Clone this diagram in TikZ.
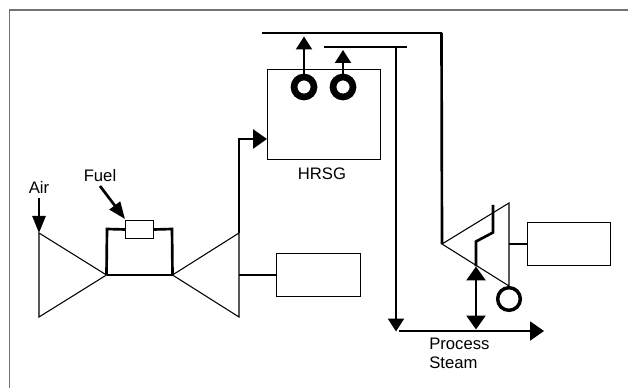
\documentclass[tikz,border=0pt]{standalone}
\usepackage{fontspec}
\setmainfont{Liberation Sans}
\usetikzlibrary{arrows.meta, positioning}

\begin{document}
\begin{tikzpicture}[
  x=0.75pt, y=-0.75pt,
  bigtip/.tip={Triangle[length=10.5pt, width=14.25pt]},
  ringtip/.tip={Triangle[length=9.75pt, width=12pt]},
  feedtip/.tip={Triangle[length=12.75pt, width=9.75pt]},
  box/.style={draw, line width=0.75pt, minimum width=62.5pt, minimum height=32.5pt, inner sep=0pt},
  heat/.style={draw, circle, line width=5pt, minimum size=15pt, inner sep=0pt},
  machine/.style={line width=0.8pt},
  pipe/.style={line width=2pt},
  header/.style={line width=1.6pt},
  lbl/.style={font=\fontsize{12.5}{14.25}\selectfont, inner sep=0pt, align=left}
]
  \useasboundingbox (0,0) rectangle (628,388);
  \draw[line width=1.1pt, draw=black!55] (9.5,389) -- (9.5,10) -- (629,10);

  % machines
  \coordinate (compA) at (39,233);
  \coordinate (compB) at (39,317);
  \coordinate (compC) at (106.5,275);
  \coordinate (turbA) at (239,233);
  \coordinate (turbB) at (239,317);
  \coordinate (turbC) at (172.5,275);
  \coordinate (steamA) at (509,203);
  \coordinate (steamB) at (509,286);
  \coordinate (steamC) at (442,244);
  \draw[machine] (compA) -- (compC) -- (compB) -- cycle;
  \draw[machine] (turbA) -- (turbC) -- (turbB) -- cycle;
  \draw[machine] (steamA) -- (steamC) -- (steamB) -- cycle;

  \node[box] (gen1) at (318.5,275) {};
  \node[box] (gen2) at (569,244.3) {};
  \node[draw, line width=0.75pt, minimum width=84.75pt, minimum height=67.5pt, inner sep=0pt] (hrsg) at (324,115) {};
  \node[draw, line width=0.75pt, minimum width=20.5pt, minimum height=14pt, inner sep=0pt] (comb) at (139.5,229.5) {};
  \node[lbl] (hrsgtxt) at (322,174) {HRSG};
  \node[lbl] (air) at (39,187) {Air};
  \node[lbl] (fuel) at (100,176) {Fuel};
  \node[lbl, anchor=west] (steam) at (429,353) {Process\\Steam};

  \node[heat] (ring1) at (304,87) {};
  \node[heat] (ring2) at (343,87) {};
  \node[heat, line width=2.6pt, minimum size=17pt] (ring3) at (509,299) {};

  % headers
  \coordinate (hpL) at (262,33);
  \coordinate (hpR) at (441.5,33);
  \coordinate (lpL) at (324,47);
  \coordinate (lpR) at (407,47);
  \coordinate (lpD) at (396,47);
  \coordinate (mix) at (396,331.5);
  \coordinate (mixR) at (399,331);
  \coordinate (end) at (544,331);
  \coordinate (drop) at (476,329.5);
  \coordinate (exA) at (476,266.5);
  \coordinate (exB) at (476,241.5);
  \coordinate (exC) at (493,232.5);
  \coordinate (tap) at (493,205);
  \coordinate (hpDot) at (304,36.5);
  \coordinate (lpDot) at (343,50);
  \draw[header] (hpL) -- (hpR);
  \draw[pipe] (hpR) -- (steamC);
  \draw[header] (lpL) -- (lpR);
  \draw[header, -ringtip] (ring1) -- (hpDot);
  \draw[header, -ringtip] (ring2) -- (lpDot);
  \draw[header, -ringtip] (lpD) -- (mix);
  \draw[header, -bigtip] (mixR) -- (end);
  \draw[pipe, bigtip-bigtip] (exA) -- (drop);
  \draw[pipe] (exA) -- (exB) -- (exC) -- (tap);

  % gas path
  \coordinate (hrsgIn) at (267,139);
  \coordinate (combL) at (107,229);
  \coordinate (combR) at (172,229);
  \coordinate (airIn) at (39,198);
  \coordinate (fuelIn) at (100,186);
  \coordinate (fuelEnd) at (125,219);
  \draw[pipe] (compC) -- (turbC);
  \draw[pipe] (compC) -- (combL) -- (comb.west);
  \draw[pipe] (comb.east) -- (combR) -- (turbC);
  \draw[pipe, -bigtip] (turbA) |- (hrsgIn);
  \draw[pipe] (turbA |- gen1) -- (gen1.west);
  \draw[line width=1.3pt] (steamA |- gen2) -- (gen2.west);
  \draw[pipe, -feedtip] (airIn) -- (compA);
  \draw[pipe, -feedtip] (fuelIn) -- (fuelEnd);
\end{tikzpicture}
\end{document}
